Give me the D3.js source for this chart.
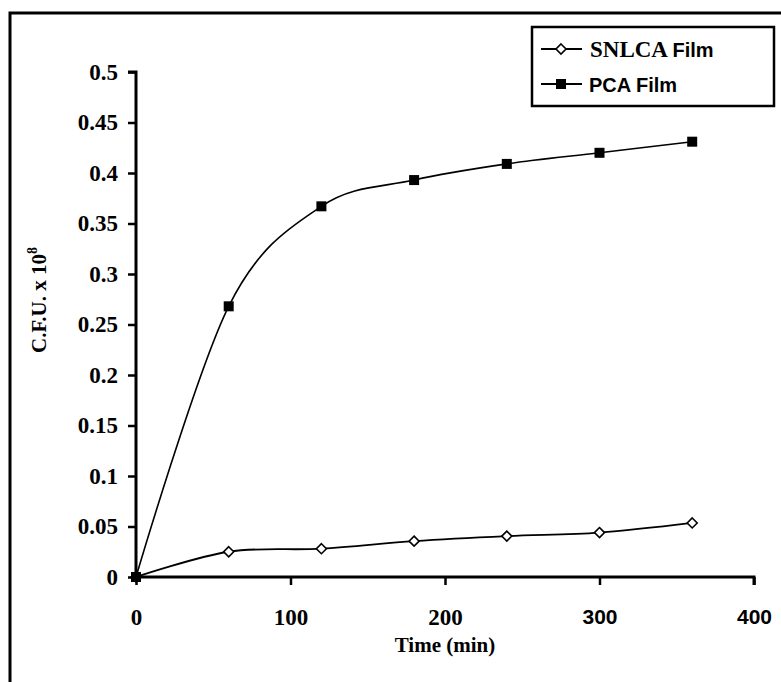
<!DOCTYPE html>
<html>
<head>
<meta charset="utf-8">
<script src="https://cdn.jsdelivr.net/npm/d3@7"></script>
<style>
  html, body { margin: 0; padding: 0; background: #fff; }
  svg { display: block; }
</style>
</head>
<body>
<div id="chart"></div>
<script>
(function() {
  "use strict";

  // data
  const times = [0, 60, 120, 180, 240, 300, 360];
  const snlcaValues = [0, 0.025, 0.028, 0.0355, 0.0405, 0.044, 0.0535];
  const pcaValues = [0, 0.268, 0.367, 0.393, 0.409, 0.42, 0.431];
  const xTicks = [0, 100, 200, 300, 400];
  const yTicks = [0, 0.05, 0.1, 0.15, 0.2, 0.25, 0.3, 0.35, 0.4, 0.45, 0.5];
  const seriesNames = ["SNLCA Film", "PCA Film"];

  const width = 781, height = 682;
  const left = 136, right = 754, top = 72, bottom = 577;

  const svg = d3.select("#chart").append("svg")
    .attr("width", width)
    .attr("height", height);

  // outer frame (runs off the right and bottom of the crop)
  svg.append("rect")
    .attr("x", 10).attr("y", 13)
    .attr("width", 800).attr("height", 700)
    .attr("fill", "none")
    .attr("stroke", "#000")
    .attr("stroke-width", 3);

  const x = d3.scaleLinear().domain([0, 400]).range([left, right]);
  const y = d3.scaleLinear().domain([0, 0.5]).range([bottom, top]);

  const serif = "'Liberation Serif', 'Times New Roman', serif";
  const sans = "'Liberation Sans', Arial, sans-serif";

  // y axis
  const yAxis = svg.append("g")
    .attr("transform", `translate(${left},0)`)
    .call(d3.axisLeft(y).tickValues(yTicks).tickSize(8).tickPadding(10)
      .tickFormat(d => d3.format("")(+d.toFixed(2))));
  yAxis.select(".domain").attr("stroke-width", 3).attr("d", `M-8,${top}H0V${bottom}`);
  yAxis.selectAll(".tick line").attr("stroke-width", 2.5);
  yAxis.selectAll(".tick text")
    .attr("font-family", serif)
    .attr("font-weight", "bold")
    .attr("font-size", 23)
    .attr("fill", "#000");

  // x axis
  const xAxis = svg.append("g")
    .attr("transform", `translate(0,${bottom})`)
    .call(d3.axisBottom(x).tickValues(xTicks).tickSize(8).tickPadding(24));
  xAxis.select(".domain").attr("stroke-width", 3).attr("d", `M${left},0H${right}V8`);
  xAxis.selectAll(".tick line").attr("stroke-width", 2.5);
  xAxis.selectAll(".tick text")
    .attr("font-family", d => d >= 300 ? sans : serif)
    .attr("font-weight", "bold")
    .attr("font-size", d => d >= 300 ? 21 : 23)
    .attr("fill", "#000");

  // axis titles
  svg.append("text")
    .attr("x", (left + right) / 2)
    .attr("y", 652)
    .attr("text-anchor", "middle")
    .attr("font-family", serif)
    .attr("font-weight", "bold")
    .attr("font-size", 21)
    .text("Time (min)");

  const yTitle = svg.append("text")
    .attr("transform", "translate(46,300) rotate(-90)")
    .attr("text-anchor", "middle")
    .attr("font-family", serif)
    .attr("font-weight", "bold")
    .attr("font-size", 21);
  yTitle.append("tspan").text("C.F.U. x 10");
  yTitle.append("tspan").attr("dy", -9).attr("font-size", 14).text("8");

  // smoothed lines like Excel
  const line = d3.line()
    .x(d => x(d[0]))
    .y(d => y(d[1]))
    .curve(d3.curveCatmullRom.alpha(0));

  const snlca = times.map((t, i) => [t, snlcaValues[i]]);
  const pca = times.map((t, i) => [t, pcaValues[i]]);

  svg.append("path").datum(pca)
    .attr("d", line).attr("fill", "none")
    .attr("stroke", "#000").attr("stroke-width", 1.6);
  svg.append("path").datum(snlca)
    .attr("d", line).attr("fill", "none")
    .attr("stroke", "#000").attr("stroke-width", 1.8);

  const diamond = d3.symbol().type(d3.symbolDiamond2).size(64);

  svg.append("g").selectAll("path")
    .data(snlca)
    .join("path")
    .attr("transform", d => `translate(${x(d[0])},${y(d[1])})`)
    .attr("d", diamond)
    .attr("fill", "#fff")
    .attr("stroke", "#000")
    .attr("stroke-width", 1.6);

  // squares on top, so the origin shows the filled marker
  svg.append("g").selectAll("rect")
    .data(pca)
    .join("rect")
    .attr("x", d => x(d[0]) - 5)
    .attr("y", d => y(d[1]) - 5)
    .attr("width", 10).attr("height", 10)
    .attr("fill", "#000");

  // legend
  const legend = svg.append("g");
  legend.append("rect")
    .attr("x", 532).attr("y", 27)
    .attr("width", 242).attr("height", 79)
    .attr("fill", "#fff")
    .attr("stroke", "#000")
    .attr("stroke-width", 2.5);

  const rowY = [49, 84];
  legend.selectAll("line")
    .data(rowY)
    .join("line")
    .attr("x1", 541).attr("x2", 582)
    .attr("y1", d => d).attr("y2", d => d)
    .attr("stroke", "#000").attr("stroke-width", 1.8);

  legend.append("path")
    .attr("transform", `translate(561,${rowY[0]})`)
    .attr("d", diamond)
    .attr("fill", "#fff").attr("stroke", "#000").attr("stroke-width", 1.6);
  legend.append("rect")
    .attr("x", 556).attr("y", rowY[1] - 5)
    .attr("width", 10).attr("height", 10)
    .attr("fill", "#000");

  const t1 = legend.append("text")
    .attr("x", 590).attr("y", rowY[0] + 8)
    .attr("font-weight", "bold");
  t1.append("tspan").attr("font-family", serif).attr("font-size", 23)
    .text(seriesNames[0].split(" ")[0] + " ");
  t1.append("tspan").attr("font-family", sans).attr("font-size", 20)
    .text(seriesNames[0].split(" ")[1]);

  legend.append("text")
    .attr("x", 589).attr("y", rowY[1] + 8)
    .attr("font-family", sans)
    .attr("font-weight", "bold")
    .attr("font-size", 20)
    .text(seriesNames[1]);
})();
</script>
</body>
</html>
